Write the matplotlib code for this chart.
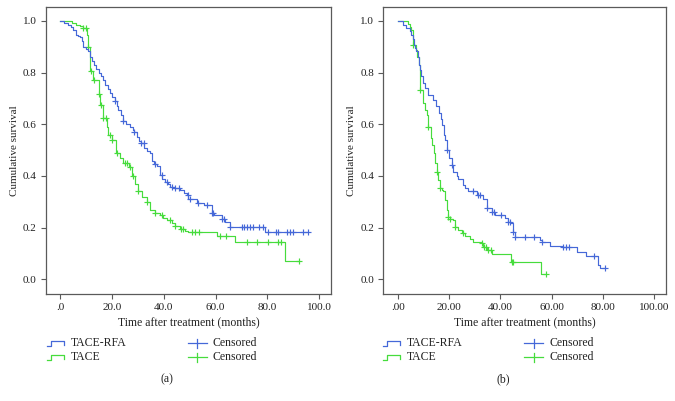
import numpy as np
import matplotlib
matplotlib.use("Agg")
import matplotlib.pyplot as plt
from matplotlib.lines import Line2D

# ---------------- data ----------------
# Panel (a)
a_rfa_t = [0, 1.5, 3.2, 4.2, 5.1, 6.0, 7.0, 7.8, 8.4, 9.0, 10.0, 10.9, 11.5, 12.2, 13.0, 14.0,
           14.8, 15.8, 16.6, 17.4, 18.3, 19.3, 20.2, 21.0, 21.8, 22.5, 23.4, 24.4, 25.5, 27.0,
           28.0, 28.6, 29.5, 30.3, 31.1, 32.4, 33.5, 34.7, 35.4, 36.3, 37.3, 38.6, 39.5, 40.5,
           41.5, 42.5, 44.0, 46.3, 48.0, 48.9, 49.5, 52.8, 55.5, 58.6, 59.5, 62.4, 63.5, 65.4, 79.2]
a_rfa_s = [1.0, 0.993, 0.985, 0.975, 0.966, 0.947, 0.942, 0.937, 0.921, 0.90, 0.893, 0.882, 0.86,
           0.845, 0.83, 0.815, 0.80, 0.785, 0.77, 0.753, 0.738, 0.72, 0.705, 0.69, 0.672, 0.656,
           0.635, 0.613, 0.60, 0.59, 0.578, 0.57, 0.55, 0.535, 0.527, 0.508, 0.498, 0.488, 0.456,
           0.448, 0.44, 0.404, 0.39, 0.378, 0.368, 0.359, 0.355, 0.346, 0.335, 0.327, 0.31, 0.295,
           0.288, 0.256, 0.248, 0.233, 0.22, 0.204, 0.182]
a_rfa_end = 95.9
a_rfa_cens = [21.0, 24.4, 28.6, 31.1, 32.2, 36.7, 39.3, 41.2, 43.1, 44.4, 45.7, 49.2, 50.2, 53.4,
              56.6, 58.6, 59.2, 62.4, 63.1, 65.4, 70.1, 71.0, 72.1, 73.4, 74.6, 76.6, 78.3, 80.4,
              83.4, 84.3, 87.5, 88.8, 89.9, 93.9, 95.9]

a_tace_t = [0, 4.5, 6.0, 7.5, 9.0, 10.2, 10.9, 11.6, 12.6, 14.8, 15.4, 16.7, 18.0, 18.6, 20.1,
            21.6, 23.0, 24.4, 26.4, 27.7, 29.0, 30.2, 31.5, 33.5, 34.7, 36.7, 38.6, 39.9, 41.2,
            43.1, 44.4, 46.3, 48.3, 49.5, 60.5, 67.6, 86.9]
a_tace_s = [1.0, 0.993, 0.986, 0.98, 0.973, 0.945, 0.90, 0.807, 0.772, 0.717, 0.676, 0.624, 0.59,
            0.559, 0.54, 0.488, 0.47, 0.45, 0.436, 0.398, 0.37, 0.34, 0.32, 0.30, 0.27, 0.256,
            0.25, 0.236, 0.228, 0.217, 0.207, 0.194, 0.188, 0.182, 0.168, 0.146, 0.072]
a_tace_end = 92.4
a_tace_cens = [9.0, 9.9, 10.9, 11.8, 12.9, 14.8, 15.8, 16.7, 17.8, 19.3, 20.1, 21.9, 25.1, 25.9,
               27.0, 28.3, 30.2, 33.5, 36.7, 39.4, 42.5, 44.4, 46.6, 47.5, 50.8, 51.9, 53.7,
               61.6, 64.2, 72.1, 76.2, 80.4, 84.3, 85.2, 92.4]

# Panel (b)
b_rfa_t = [0, 2.1, 3.4, 4.7, 5.3, 5.8, 6.2, 6.8, 7.3, 7.8, 8.3, 8.8, 9.2, 9.8, 10.5, 11.8, 13.8,
           15.0, 16.0, 16.8, 17.4, 17.9, 18.6, 19.3, 20.2, 21.0, 21.7, 23.0, 23.6, 25.6, 26.2,
           27.5, 28.8, 30.8, 33.4, 34.7, 36.6, 37.9, 41.8, 43.1, 44.0, 45.1, 45.7, 55.5, 56.1,
           59.4, 63.9, 69.8, 73.5, 78.0, 79.0]
b_rfa_s = [1.0, 0.985, 0.973, 0.96, 0.947, 0.93, 0.908, 0.895, 0.882, 0.86, 0.83, 0.81, 0.785,
           0.76, 0.74, 0.714, 0.695, 0.669, 0.643, 0.62, 0.598, 0.559, 0.54, 0.50, 0.47, 0.443,
           0.416, 0.398, 0.39, 0.365, 0.353, 0.343, 0.34, 0.327, 0.31, 0.275, 0.262, 0.249,
           0.239, 0.223, 0.217, 0.184, 0.165, 0.152, 0.143, 0.13, 0.124, 0.107, 0.09, 0.055, 0.043]
b_rfa_end = 81.0
b_rfa_cens = [19.3, 21.0, 29.5, 31.4, 32.1, 34.7, 36.8, 37.7, 40.1, 43.1, 43.8, 45.1, 45.7, 49.6,
              53.3, 56.1, 64.3, 65.6, 66.9, 76.4, 81.0]

b_tace_t = [0, 4.0, 4.9, 5.3, 6.0, 7.0, 7.7, 8.3, 8.6, 9.9, 10.5, 11.3, 11.9, 12.9, 13.5, 14.1,
            14.5, 15.2, 15.8, 16.5, 17.1, 17.8, 18.4, 19.1, 19.7, 20.5, 21.7, 22.3, 23.5, 24.9,
            26.2, 28.2, 29.5, 32.7, 33.4, 34.7, 36.6, 44.0, 55.7]
b_tace_s = [1.0, 0.99, 0.975, 0.966, 0.908, 0.889, 0.86, 0.83, 0.734, 0.682, 0.656, 0.637, 0.59,
            0.547, 0.52, 0.488, 0.45, 0.417, 0.385, 0.353, 0.346, 0.34, 0.307, 0.27, 0.243,
            0.235, 0.23, 0.204, 0.19, 0.178, 0.168, 0.155, 0.146, 0.14, 0.126, 0.115, 0.098,
            0.068, 0.019]
b_tace_end = 57.8
b_tace_cens = [6.0, 8.6, 11.9, 15.2, 16.5, 19.7, 20.5, 22.3, 25.6, 32.7, 33.6, 34.4, 35.3, 36.2,
               44.4, 45.1, 57.8]

x_ticks = [0, 20, 40, 60, 80, 100]
a_xticklabels = [".0", "20.0", "40.0", "60.0", "80.0", "100.0"]
b_xticklabels = [".00", "20.00", "40.00", "60.00", "80.00", "100.00"]
y_ticks = [0.0, 0.2, 0.4, 0.6, 0.8, 1.0]
y_ticklabels = ["0.0", "0.2", "0.4", "0.6", "0.8", "1.0"]
series_names = ["TACE-RFA", "TACE"]
censor_name = "Censored"
captions = ["(a)", "(b)"]

# ---------------- style ----------------
W, H = 675, 401
BLUE = "#4568d8"
GREEN = "#46dc3c"
FRAME = "#5a5a5a"
TXT = "#222222"
plt.rcParams["font.family"] = ["Liberation Serif", "DejaVu Serif"]
FS = 8

fig = plt.figure(figsize=(W / 100, H / 100), dpi=100)


def fx(px):
    return px / W


def fy(py):
    return 1 - py / H


def step_value(t, s, c):
    t = np.asarray(t, dtype=float)
    s = np.asarray(s, dtype=float)
    idx = np.searchsorted(t, np.asarray(c, dtype=float), side="right") - 1
    return s[np.clip(idx, 0, len(s) - 1)]


def draw_curve(ax, t, s, end, cens, color):
    tt = list(t) + [end]
    ss = list(s) + [s[-1]]
    ax.step(tt, ss, where="post", color=color, lw=0.85)
    cy = step_value(t, s, cens)
    ax.plot(cens, cy, ls="none", marker="+", ms=5, mew=0.85, color=color)


panels = [
    dict(left=45.7, right=331, data=[(a_rfa_t, a_rfa_s, a_rfa_end, a_rfa_cens),
                                      (a_tace_t, a_tace_s, a_tace_end, a_tace_cens)],
         xlabels=a_xticklabels, cap=captions[0], capx=167, legx=0),
    dict(left=383.3, right=666, data=[(b_rfa_t, b_rfa_s, b_rfa_end, b_rfa_cens),
                                       (b_tace_t, b_tace_s, b_tace_end, b_tace_cens)],
         xlabels=b_xticklabels, cap=captions[1], capx=503, legx=336),
]

top, bottom = 7, 294
for p in panels:
    ax = fig.add_axes([fx(p["left"]), fy(bottom), fx(p["right"]) - fx(p["left"]),
                       fy(top) - fy(bottom)])
    (t1, s1, e1, c1), (t2, s2, e2, c2) = p["data"]
    draw_curve(ax, t2, s2, e2, c2, GREEN)
    draw_curve(ax, t1, s1, e1, c1, BLUE)
    ax.set_xlim(-5.6, 104.6)
    ax.set_ylim(-0.057, 1.054)
    ax.set_xticks(x_ticks)
    ax.set_xticklabels(p["xlabels"])
    ax.set_yticks(y_ticks)
    ax.set_yticklabels(y_ticklabels)
    for sp in ax.spines.values():
        sp.set_color(FRAME)
        sp.set_linewidth(0.9)
    ax.tick_params(axis="both", direction="out", length=3.5, width=0.8, color=FRAME,
                   labelsize=FS, labelcolor=TXT, pad=3)
    ax.set_xlabel("Time after treatment (months)", fontsize=FS + 0.5, color=TXT, labelpad=3)
    ax.set_ylabel("Cumulative survival", fontsize=FS, color=TXT, labelpad=3)

    # legend (drawn manually below the axes)
    ox = p["legx"]
    for (name, col, yy) in [(series_names[0], BLUE, 343), (series_names[1], GREEN, 357)]:
        xs = [47 + ox, 51 + ox, 51 + ox, 64 + ox, 64 + ox]
        ys = [yy + 3, yy + 3, yy - 2, yy - 2, yy + 2]
        fig.add_artist(Line2D([fx(v) for v in xs], [fy(v) for v in ys], color=col, lw=0.9))
        fig.text(fx(71 + ox), fy(yy), name, fontsize=FS + 0.5, color=TXT, va="center", ha="left")
        fig.add_artist(Line2D([fx(188 + ox), fx(207 + ox)], [fy(yy), fy(yy)], color=col, lw=0.9))
        fig.add_artist(Line2D([fx(197.5 + ox), fx(197.5 + ox)], [fy(yy - 4.5), fy(yy + 4.5)],
                              color=col, lw=0.9))
        fig.text(fx(213 + ox), fy(yy), censor_name, fontsize=FS + 0.5, color=TXT,
                 va="center", ha="left")
    fig.text(fx(p["capx"]), fy(379), p["cap"], fontsize=FS + 0.5, color=TXT,
             ha="center", va="center")

fig.savefig("out.png", dpi=100)
